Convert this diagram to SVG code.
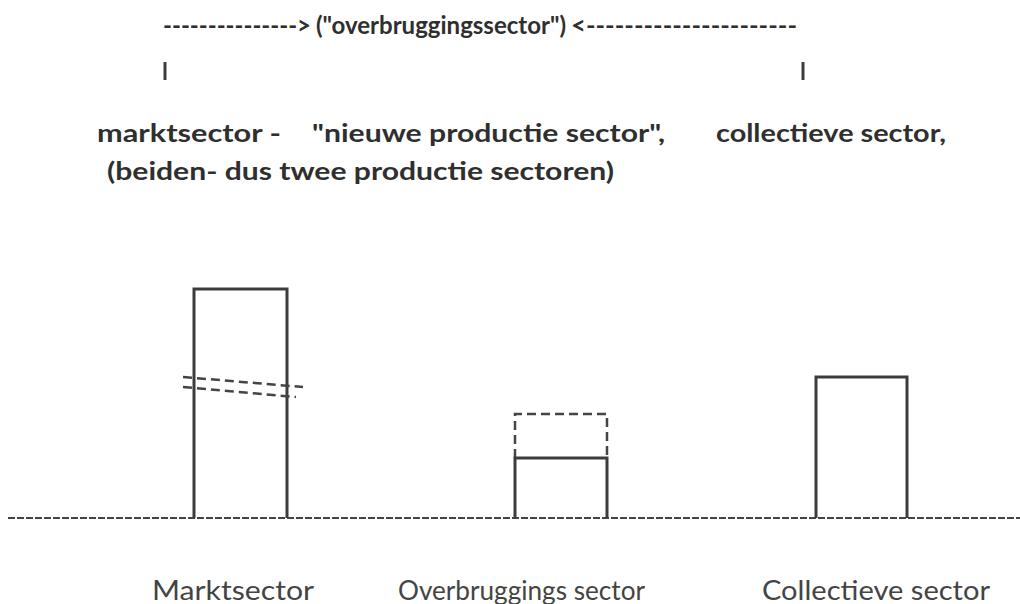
<svg xmlns="http://www.w3.org/2000/svg" width="1020" height="604" viewBox="0 0 1020 604">
<style>
.t{font-family:Lato,"Open Sans","Liberation Sans",sans-serif;fill:#2f2f2f;font-weight:bold;font-size:24px}
.b{font-family:Lato,"Open Sans","Liberation Sans",sans-serif;fill:#444;font-size:27px}
.s{fill:none;stroke:#3c3c3c;stroke-width:3}
.d{fill:none;stroke:#444;stroke-width:2.5;stroke-dasharray:9 5}
.g{fill:none;stroke:#444;stroke-width:2;stroke-dasharray:7 2}
</style>
<rect width="1020" height="604" fill="#fff"/>
<g id="header">
<text class="t" x="163" y="34" textLength="148" lengthAdjust="spacingAndGlyphs">---------------&gt;</text>
<text class="t" x="316" y="34" textLength="250" lengthAdjust="spacingAndGlyphs">("overbruggingssector")</text>
<text class="t" x="571" y="34" textLength="226" lengthAdjust="spacingAndGlyphs">&lt;----------------------</text>
<line class="s" x1="165" y1="62" x2="165" y2="80"/>
<line class="s" x1="803" y1="62" x2="803" y2="80"/>
<text class="t" x="97" y="142" textLength="184" lengthAdjust="spacingAndGlyphs">marktsector -</text>
<text class="t" x="312" y="142" textLength="353" lengthAdjust="spacingAndGlyphs">"nieuwe productie sector",</text>
<text class="t" x="716" y="142" textLength="230" lengthAdjust="spacingAndGlyphs">collectieve sector,</text>
<text class="t" x="107" y="180" textLength="507" lengthAdjust="spacingAndGlyphs">(beiden- dus twee productie sectoren)</text>
</g>
<g id="connectors">
<line class="g" x1="8" y1="518" x2="1020" y2="518"/>
</g>
<g id="marktsector">
<polyline class="s" points="194,518 194,289 287,289 287,518"/>
<line class="d" x1="183" y1="377" x2="303" y2="387"/>
<line class="d" x1="183" y1="387" x2="296" y2="397"/>
<text class="b" x="152" y="600" textLength="162" lengthAdjust="spacingAndGlyphs">Marktsector</text>
</g>
<g id="overbrugging">
<polyline class="d" points="515,458 515,414 607,414 607,458"/>
<polyline class="s" points="515,518 515,458 607,458 607,518"/>
<text class="b" x="398" y="600" textLength="247" lengthAdjust="spacingAndGlyphs">Overbruggings sector</text>
</g>
<g id="collectief">
<polyline class="s" points="816,518 816,377 907,377 907,518"/>
<text class="b" x="762" y="600" textLength="228" lengthAdjust="spacingAndGlyphs">Collectieve sector</text>
</g>
</svg>
